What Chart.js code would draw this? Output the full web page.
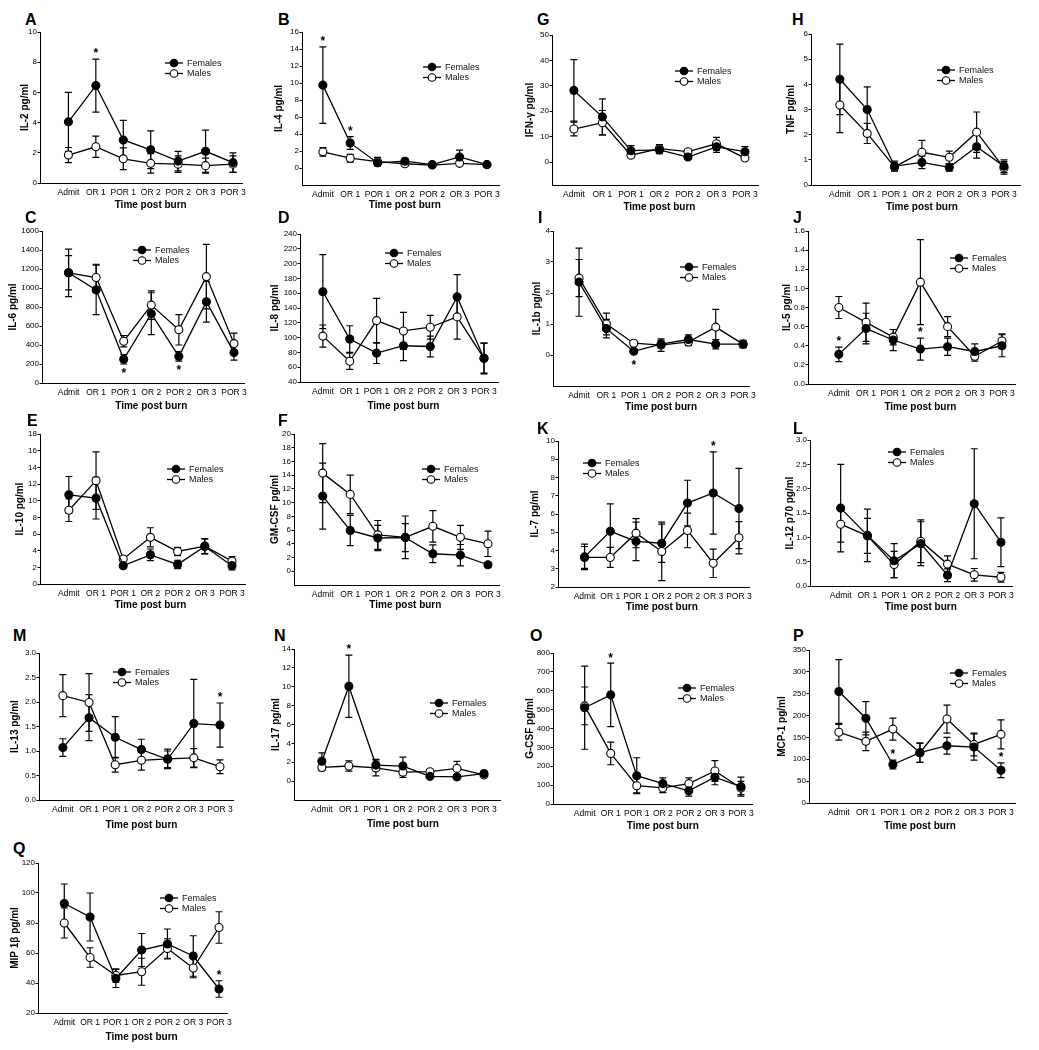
<!DOCTYPE html>
<html><head><meta charset="utf-8">
<script src="https://cdn.jsdelivr.net/npm/chart.js@4.4.1/dist/chart.umd.min.js"></script>
<style>
html,body{margin:0;padding:0;background:#fff;}
#page{position:relative;width:1039px;height:1050px;overflow:hidden;background:#fff;}
canvas.p{position:absolute;}
.lt{position:absolute;font:bold 16px "Liberation Sans", Arial, sans-serif;line-height:16px;color:#000;}
</style></head><body><div id="page"></div>
<script>
const timepoints = ['Admit', 'OR 1', 'POR 1', 'OR 2', 'POR 2', 'OR 3', 'POR 3'];
const seriesNames = ['Females', 'Males'];
const xAxisTitle = 'Time post burn';

// A: IL-2
const il2Females = [4.05, 6.45, 2.85, 2.2, 1.45, 2.1, 1.35];
const il2FemalesSem = [1.95, 1.75, 1.3, 1.25, 0.65, 1.4, 0.65];
const il2Males = [1.85, 2.4, 1.6, 1.3, 1.25, 1.15, 1.25];
const il2MalesSem = [0.5, 0.7, 0.72, 0.65, 0.55, 0.5, 0.55];
const il2Sig = [1];
// B: IL-4
const il4Females = [9.75, 2.95, 0.6, 0.8, 0.4, 1.3, 0.4];
const il4FemalesSem = [4.5, 0.75, 0.25, 0.35, 0.15, 0.8, 0.1];
const il4Males = [1.9, 1.15, 0.75, 0.5, 0.35, 0.55, 0.4];
const il4MalesSem = [0.5, 0.45, 0.5, 0.3, 0.15, 0.25, 0.1];
const il4Sig = [0, 1];
// G: IFN-gamma
const ifngFemales = [28.2, 17.8, 4.5, 4.8, 2.0, 6.0, 4.1];
const ifngFemalesSem = [12.1, 7.1, 2.0, 1.5, 0.8, 2.2, 2.0];
const ifngMales = [13, 15.5, 2.7, 5.3, 4.1, 7.2, 1.6];
const ifngMalesSem = [2.7, 4.8, 0.6, 1.6, 0.8, 2.5, 0.5];
const ifngSig = [];
// H: TNF
const tnfFemales = [4.2, 3.0, 0.75, 0.9, 0.7, 1.52, 0.75];
const tnfFemalesSem = [1.4, 0.9, 0.2, 0.25, 0.15, 0.45, 0.25];
const tnfMales = [3.18, 2.05, 0.72, 1.3, 1.1, 2.1, 0.68];
const tnfMalesSem = [1.1, 0.4, 0.15, 0.47, 0.25, 0.8, 0.25];
const tnfSig = [];
// C: IL-6
const il6Females = [1160, 980, 250, 730, 280, 855, 320];
const il6FemalesSem = [180, 260, 50, 220, 50, 215, 80];
const il6Males = [1160, 1110, 440, 820, 560, 1120, 415];
const il6MalesSem = [250, 140, 60, 150, 160, 340, 110];
const il6Sig = [2, 4];
// D: IL-8
const il8Females = [162, 98, 79, 89, 88, 155, 72];
const il8FemalesSem = [50, 18, 14, 20, 14, 30, 20];
const il8Males = [102, 68, 123, 109, 114, 128, 72];
const il8MalesSem = [15, 11, 30, 25, 16, 30, 21];
const il8Sig = [];
// I: IL-1b
const il1bFemales = [2.35, 0.85, 0.12, 0.35, 0.5, 0.35, 0.35];
const il1bFemalesSem = [1.1, 0.3, 0.05, 0.12, 0.15, 0.15, 0.1];
const il1bMales = [2.48, 1.0, 0.38, 0.32, 0.42, 0.9, 0.35];
const il1bMalesSem = [0.6, 0.35, 0.08, 0.2, 0.12, 0.57, 0.12];
const il1bSig = [2];
// J: IL-5
const il5Females = [0.31, 0.58, 0.46, 0.365, 0.39, 0.34, 0.4];
const il5FemalesSem = [0.075, 0.16, 0.11, 0.115, 0.09, 0.08, 0.115];
const il5Males = [0.8, 0.645, 0.49, 1.065, 0.6, 0.29, 0.45];
const il5MalesSem = [0.115, 0.2, 0.08, 0.445, 0.105, 0.05, 0.075];
const il5Sig = [0, 3];
// E: IL-10
const il10Females = [10.7, 10.3, 2.2, 3.5, 2.35, 4.5, 2.2];
const il10FemalesSem = [2.2, 2.5, 0.25, 0.7, 0.5, 0.9, 0.5];
const il10Males = [8.85, 12.4, 3.0, 5.6, 3.9, 4.55, 2.75];
const il10MalesSem = [1.35, 3.45, 0.3, 1.15, 0.5, 0.9, 0.55];
const il10Sig = [];
// F: GM-CSF
const gmcsfFemales = [10.95, 5.95, 4.85, 4.9, 2.55, 2.35, 0.95];
const gmcsfFemalesSem = [4.8, 2.2, 1.85, 2.05, 1.3, 1.55, 0.3];
const gmcsfMales = [14.3, 11.2, 5.3, 4.95, 6.55, 4.95, 4.0];
const gmcsfMalesSem = [4.3, 2.8, 2.1, 3.1, 2.3, 1.75, 1.85];
const gmcsfSig = [];
// K: IL-7
const il7Females = [3.65, 5.05, 4.5, 4.4, 6.6, 7.15, 6.3];
const il7FemalesSem = [0.7, 1.5, 1.05, 1.05, 1.25, 2.25, 2.2];
const il7Males = [3.62, 3.62, 4.95, 3.95, 5.1, 3.3, 4.7];
const il7MalesSem = [0.6, 0.55, 0.8, 1.6, 0.95, 0.78, 0.88];
const il7Sig = [5];
// L: IL-12 p70
const il12Females = [1.6, 1.04, 0.52, 0.87, 0.22, 1.69, 0.9];
const il12FemalesSem = [0.9, 0.54, 0.35, 0.45, 0.13, 1.13, 0.5];
const il12Males = [1.27, 1.03, 0.44, 0.92, 0.45, 0.23, 0.18];
const il12MalesSem = [0.37, 0.36, 0.27, 0.44, 0.17, 0.13, 0.1];
const il12Sig = [];
// M: IL-13
const il13Females = [1.07, 1.68, 1.28, 1.03, 0.83, 1.56, 1.53];
const il13FemalesSem = [0.18, 0.47, 0.42, 0.21, 0.17, 0.9, 0.45];
const il13Males = [2.13, 1.99, 0.72, 0.81, 0.84, 0.86, 0.68];
const il13MalesSem = [0.43, 0.59, 0.15, 0.2, 0.2, 0.19, 0.14];
const il13Sig = [6];
// N: IL-17
const il17Females = [2.1, 10.05, 1.7, 1.6, 0.5, 0.45, 0.8];
const il17FemalesSem = [0.9, 3.3, 0.6, 0.95, 0.15, 0.15, 0.15];
const il17Males = [1.45, 1.6, 1.4, 0.95, 1.0, 1.35, 0.65];
const il17MalesSem = [0.35, 0.55, 0.85, 0.55, 0.25, 0.75, 0.15];
const il17Sig = [1];
// O: G-CSF
const gcsfFemales = [510, 578, 150, 108, 70, 142, 92];
const gcsfFemalesSem = [220, 168, 95, 30, 28, 40, 50];
const gcsfMales = [520, 268, 97, 85, 108, 175, 85];
const gcsfMalesSem = [100, 60, 38, 25, 30, 55, 35];
const gcsfSig = [1];
// P: MCP-1
const mcp1Females = [255, 194, 88, 115, 131, 128, 75];
const mcp1FemalesSem = [73, 38, 10, 22, 19, 30, 17];
const mcp1Males = [162, 141, 169, 115, 192, 134, 157];
const mcp1MalesSem = [18, 21, 25, 22, 32, 26, 33];
const mcp1Sig = [2, 6];
// Q: MIP 1beta
const mip1bFemales = [93, 84, 43, 62, 66, 58, 36];
const mip1bFemalesSem = [13, 16, 6, 11, 10, 13.5, 5.5];
const mip1bMales = [80, 57, 45, 47.5, 63, 50, 77];
const mip1bMalesSem = [10, 6.5, 4.5, 9, 6.5, 6.5, 10.5];
const mip1bSig = [6];

const FONT = '"Liberation Sans", Arial, Helvetica, sans-serif';
Chart.defaults.font.family = FONT;
Chart.defaults.color = '#000';

// axis ranges (value domain) and layout (pixel geometry) per panel
const panels = [
  {ltr:'A', title:'IL-2 pg/ml', f:il2Females, fe:il2FemalesSem, m:il2Males, me:il2MalesSem, sig:il2Sig, below:false,
   yMin:0, tMin:0, yMax:10, step:2, dec:0,
   g:{axL:40, axT:32, axB:183, axR:247, x0:69, x6:237, tx:25, ty:205, lx:165, ly:63, ltrX:25, ltrY:14}},
  {ltr:'B', title:'IL-4 pg/ml', f:il4Females, fe:il4FemalesSem, m:il4Males, me:il4MalesSem, sig:il4Sig, below:false,
   yMin:-2, tMin:0, yMax:16, step:2, dec:0,
   g:{axL:302, axT:32, axB:185, axR:501, x0:323, x6:488, tx:279, ty:205, lx:423, ly:67, ltrX:278, ltrY:14}},
  {ltr:'G', title:'IFN-\u03b3 pg/ml', f:ifngFemales, fe:ifngFemalesSem, m:ifngMales, me:ifngMalesSem, sig:ifngSig, below:false,
   yMin:-9, tMin:0, yMax:50, step:10, dec:0,
   g:{axL:552, axT:35, axB:185, axR:760, x0:574, x6:746, tx:530, ty:207, lx:675, ly:71, ltrX:537, ltrY:14}},
  {ltr:'H', title:'TNF pg/ml', f:tnfFemales, fe:tnfFemalesSem, m:tnfMales, me:tnfMalesSem, sig:tnfSig, below:false,
   yMin:0, tMin:0, yMax:6, step:1, dec:0,
   g:{axL:811, axT:34, axB:185, axR:1022, x0:840, x6:1005, tx:791, ty:207, lx:937, ly:70, ltrX:792, ltrY:14}},
  {ltr:'C', title:'IL-6 pg/ml', f:il6Females, fe:il6FemalesSem, m:il6Males, me:il6MalesSem, sig:il6Sig, below:true,
   yMin:0, tMin:0, yMax:1600, step:200, dec:0,
   g:{axL:42, axT:231, axB:383, axR:248, x0:69, x6:237, tx:13, ty:406, lx:133, ly:250, ltrX:25, ltrY:212}},
  {ltr:'D', title:'IL-8 pg/ml', f:il8Females, fe:il8FemalesSem, m:il8Males, me:il8MalesSem, sig:il8Sig, below:false,
   yMin:40, tMin:40, yMax:240, step:20, dec:0,
   g:{axL:300, axT:234, axB:382, axR:500, x0:323, x6:485, tx:275, ty:406, lx:385, ly:253, ltrX:278, ltrY:212}},
  {ltr:'I', title:'IL-1b pg/ml', f:il1bFemales, fe:il1bFemalesSem, m:il1bMales, me:il1bMalesSem, sig:il1bSig, below:true,
   yMin:-1, tMin:0, yMax:4, step:1, dec:0,
   g:{axL:553, axT:231, axB:386, axR:757, x0:580, x6:750, tx:537, ty:407, lx:680, ly:267, ltrX:538, ltrY:212}},
  {ltr:'J', title:'IL-5 pg/ml', f:il5Females, fe:il5FemalesSem, m:il5Males, me:il5MalesSem, sig:il5Sig, below:false,
   yMin:0, tMin:0, yMax:1.6, step:0.2, dec:1,
   g:{axL:808, axT:231, axB:384, axR:1017, x0:839, x6:1003, tx:787, ty:407, lx:950, ly:258, ltrX:793, ltrY:212}},
  {ltr:'E', title:'IL-10 pg/ml', f:il10Females, fe:il10FemalesSem, m:il10Males, me:il10MalesSem, sig:il10Sig, below:false,
   yMin:0, tMin:0, yMax:18, step:2, dec:0,
   g:{axL:40, axT:434, axB:584, axR:247, x0:69, x6:233, tx:20, ty:605, lx:167, ly:469, ltrX:27, ltrY:415}},
  {ltr:'F', title:'GM-CSF pg/ml', f:gmcsfFemales, fe:gmcsfFemalesSem, m:gmcsfMales, me:gmcsfMalesSem, sig:gmcsfSig, below:false,
   yMin:-2, tMin:0, yMax:20, step:2, dec:0,
   g:{axL:294, axT:434, axB:585, axR:502, x0:323, x6:490, tx:275, ty:605, lx:422, ly:469, ltrX:278, ltrY:415}},
  {ltr:'K', title:'IL-7 pg/ml', f:il7Females, fe:il7FemalesSem, m:il7Males, me:il7MalesSem, sig:il7Sig, below:false,
   yMin:2, tMin:2, yMax:10, step:1, dec:0,
   g:{axL:558, axT:441, axB:587, axR:753, x0:585, x6:742, tx:535, ty:607, lx:583, ly:463, ltrX:537, ltrY:423}},
  {ltr:'L', title:'IL-12 p70 pg/ml', f:il12Females, fe:il12FemalesSem, m:il12Males, me:il12MalesSem, sig:il12Sig, below:false,
   yMin:0, tMin:0, yMax:3, step:0.5, dec:1,
   g:{axL:810, axT:440, axB:586, axR:1015, x0:841, x6:1003, tx:790, ty:607, lx:888, ly:452, ltrX:793, ltrY:423}},
  {ltr:'M', title:'IL-13 pg/ml', f:il13Females, fe:il13FemalesSem, m:il13Males, me:il13MalesSem, sig:il13Sig, below:false,
   yMin:0, tMin:0, yMax:3, step:0.5, dec:1,
   g:{axL:39, axT:653, axB:800, axR:235, x0:63, x6:221, tx:15, ty:825, lx:113, ly:672, ltrX:13, ltrY:630}},
  {ltr:'N', title:'IL-17 pg/ml', f:il17Females, fe:il17FemalesSem, m:il17Males, me:il17MalesSem, sig:il17Sig, below:false,
   yMin:-2, tMin:0, yMax:14, step:2, dec:0,
   g:{axL:294, axT:649, axB:800, axR:502, x0:322, x6:485, tx:276, ty:824, lx:430, ly:703, ltrX:274, ltrY:630}},
  {ltr:'O', title:'G-CSF pg/ml', f:gcsfFemales, fe:gcsfFemalesSem, m:gcsfMales, me:gcsfMalesSem, sig:gcsfSig, below:false,
   yMin:0, tMin:0, yMax:800, step:100, dec:0,
   g:{axL:553, axT:653, axB:804, axR:755, x0:585, x6:743, tx:530, ty:826, lx:678, ly:688, ltrX:530, ltrY:630}},
  {ltr:'P', title:'MCP-1 pg/ml', f:mcp1Females, fe:mcp1FemalesSem, m:mcp1Males, me:mcp1MalesSem, sig:mcp1Sig, below:false,
   yMin:0, tMin:0, yMax:350, step:50, dec:0,
   g:{axL:809, axT:650, axB:803, axR:1017, x0:839, x6:1002, tx:782, ty:826, lx:950, ly:673, ltrX:793, ltrY:630}},
  {ltr:'Q', title:'MIP 1\u03b2 pg/ml', f:mip1bFemales, fe:mip1bFemalesSem, m:mip1bMales, me:mip1bMalesSem, sig:mip1bSig, below:false,
   yMin:20, tMin:20, yMax:120, step:20, dec:0,
   g:{axL:38, axT:863, axB:1013, axR:233, x0:65, x6:224, tx:15, ty:1037, lx:160, ly:898, ltrX:13, ltrY:843}}
];

const errorBars = {
  id: 'errorBars',
  beforeDatasetsDraw(chart) {
    const ctx = chart.ctx, xs = chart.scales.x, ys = chart.scales.y;
    ctx.save();
    ctx.strokeStyle = '#000';
    ctx.lineWidth = 1.2;
    chart.data.datasets.forEach(ds => {
      ds.data.forEach((pt, i) => {
        const e = ds.err[i];
        const px = xs.getPixelForValue(pt.x);
        const yt = ys.getPixelForValue(pt.y + e);
        const yb = ys.getPixelForValue(pt.y - e);
        ctx.beginPath();
        ctx.moveTo(px, yt); ctx.lineTo(px, yb);
        ctx.moveTo(px - 3.5, yt); ctx.lineTo(px + 3.5, yt);
        ctx.moveTo(px - 3.5, yb); ctx.lineTo(px + 3.5, yb);
        ctx.stroke();
      });
    });
    ctx.restore();
  }
};

const sigMarks = {
  id: 'sigMarks',
  afterDatasetsDraw(chart, args, opts) {
    const ctx = chart.ctx, xs = chart.scales.x, ys = chart.scales.y;
    const ds = chart.data.datasets[0];
    ctx.save();
    ctx.fillStyle = '#000';
    ctx.font = 'bold 12px ' + FONT;
    ctx.textAlign = 'center';
    ctx.textBaseline = 'middle';
    opts.idx.forEach(i => {
      const pt = ds.data[i], e = ds.err[i];
      const px = xs.getPixelForValue(pt.x);
      let cy;
      if (opts.below) cy = Math.max(ys.getPixelForValue(pt.y - e), ys.getPixelForValue(pt.y) + 4) + 7;
      else cy = ys.getPixelForValue(pt.y + e) - 8;
      ctx.fillText('*', px, cy + 3);
    });
    ctx.restore();
  }
};

const panelLegend = {
  id: 'panelLegend',
  afterDraw(chart, args, opts) {
    const ctx = chart.ctx;
    ctx.save();
    chart.data.datasets.forEach((ds, k) => {
      const x = opts.x, y = opts.y + k * 10.5;
      ctx.strokeStyle = '#000';
      ctx.lineWidth = 1.3;
      ctx.beginPath(); ctx.moveTo(x, y); ctx.lineTo(x + 18, y); ctx.stroke();
      ctx.beginPath(); ctx.arc(x + 9, y, 3.8, 0, Math.PI * 2);
      ctx.fillStyle = ds.pointBackgroundColor; ctx.fill();
      ctx.lineWidth = 1.1; ctx.stroke();
      ctx.fillStyle = '#111';
      ctx.font = '9px ' + FONT;
      ctx.textAlign = 'left'; ctx.textBaseline = 'middle';
      ctx.fillText(ds.label, x + 22, y + 0.5);
    });
    ctx.restore();
  }
};

// x-axis title centred under the category range (as in the original figure)
const xTitle = {
  id: 'xTitle',
  afterDraw(chart, args, opts) {
    const ctx = chart.ctx, xs = chart.scales.x;
    const cx = (xs.getPixelForValue(0) + xs.getPixelForValue(timepoints.length - 1)) / 2;
    ctx.save();
    ctx.fillStyle = '#000';
    ctx.font = 'bold 10px ' + FONT;
    ctx.textAlign = 'center'; ctx.textBaseline = 'middle';
    ctx.fillText(xAxisTitle, cx, opts.y);
    ctx.restore();
  }
};

const page = document.getElementById('page');

panels.forEach(p => {
  const g = p.g;
  const left = g.tx - 6, top = g.axT - 6, right = g.axR + 4, bottom = g.ty + 7;
  const W = right - left, H = bottom - top;
  const sp = (g.x6 - g.x0) / 6;
  const xMin = -(g.x0 - g.axL) / sp, xMax = 6 + (g.axR - g.x6) / sp;
  const yW = g.axL - left, xH = bottom - g.axB;

  const lt = document.createElement('div');
  lt.className = 'lt';
  lt.textContent = p.ltr;
  lt.style.left = g.ltrX + 'px';
  lt.style.top = (g.ltrY - 2) + 'px';
  page.appendChild(lt);

  const cv = document.createElement('canvas');
  cv.className = 'p';
  cv.width = W; cv.height = H;
  cv.style.left = left + 'px'; cv.style.top = top + 'px';
  cv.style.width = W + 'px'; cv.style.height = H + 'px';
  page.appendChild(cv);

  const mk = (name, vals, errs, fill) => ({
    label: name,
    data: vals.map((v, i) => ({x: i, y: v})),
    err: errs,
    borderColor: '#000', backgroundColor: fill,
    pointBackgroundColor: fill, pointBorderColor: '#000',
    pointRadius: 4, pointBorderWidth: 1.1, borderWidth: 1.3,
    tension: 0, fill: false
  });

  new Chart(cv, {
    type: 'line',
    data: { datasets: [ mk(seriesNames[0], p.f, p.fe, '#000'), mk(seriesNames[1], p.m, p.me, '#fff') ] },
    options: {
      responsive: false, animation: false, devicePixelRatio: 1,
      layout: { padding: { top: 6, right: 4, left: 0, bottom: 0 } },
      plugins: {
        legend: { display: false }, tooltip: { enabled: false },
        sigMarks: { idx: p.sig, below: p.below },
        panelLegend: { x: g.lx - left, y: g.ly - top },
        xTitle: { y: g.ty - top }
      },
      scales: {
        x: {
          type: 'linear', min: xMin, max: xMax,
          grid: { display: false, drawTicks: false },
          border: { display: true, color: '#000', width: 1 },
          ticks: { padding: 5, color: '#000', font: { size: 8.5 }, autoSkip: false, maxRotation: 0, minRotation: 0,
                   callback: v => timepoints[v] },
          afterBuildTicks: s => { s.ticks = timepoints.map((_, i) => ({ value: i })); },
          afterFit: s => { s.height = xH; },
          title: { display: false }
        },
        y: {
          min: p.yMin, max: p.yMax,
          grid: { display: true, drawOnChartArea: false, drawTicks: true, tickLength: 2.5, color: '#000' },
          border: { display: true, color: '#000', width: 1 },
          ticks: { padding: 0.5, color: '#000', font: { size: 8 }, callback: v => Number(v).toFixed(p.dec) },
          afterBuildTicks: s => {
            const t = [];
            const n = Math.round((p.yMax - p.tMin) / p.step);
            for (let k = 0; k <= n; k++) t.push({ value: +(p.tMin + k * p.step).toFixed(6) });
            s.ticks = t;
          },
          afterFit: s => { s.width = yW; },
          title: { display: true, text: p.title, color: '#000', font: { size: 10, weight: 'bold' }, padding: 0 }
        }
      }
    },
    plugins: [errorBars, sigMarks, panelLegend, xTitle]
  });
});
</script>
</body></html>
